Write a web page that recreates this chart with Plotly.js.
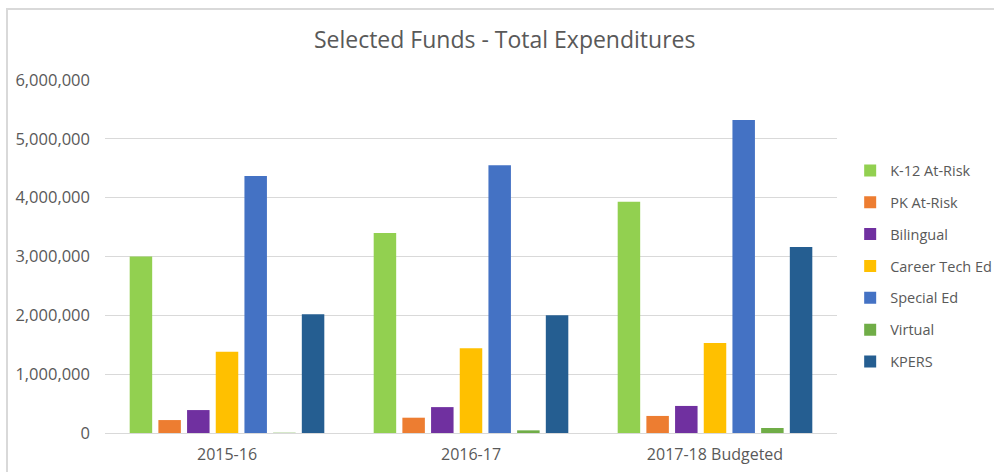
<!DOCTYPE html>
<html>
<head>
<meta charset="utf-8">
<script src="https://cdn.plot.ly/plotly-3.0.1.min.js"></script>
<style>
  html, body { margin: 0; padding: 0; background: #fff; overflow: hidden; }
  #chart { width: 994px; height: 472px; position: absolute; left: 0; top: 0; }
  #frame { position: absolute; left: 6px; top: 8px; width: 1100px; height: 600px;
           border-top: 2px solid #d9d9d9; border-left: 2px solid #d9d9d9; pointer-events: none; }
</style>
</head>
<body>
<div id="chart"></div>
<div id="frame"></div>
<script>
const categories = ["2015-16", "2016-17", "2017-18 Budgeted"];
const seriesNames = ["K-12 At-Risk", "PK At-Risk", "Bilingual", "Career Tech Ed", "Special Ed", "Virtual", "KPERS"];
const k12AtRisk   = [3000000, 3400000, 3930000];
const pkAtRisk    = [220000, 260000, 290000];
const bilingual   = [390000, 440000, 460000];
const careerTech  = [1380000, 1440000, 1530000];
const specialEd   = [4370000, 4550000, 5320000];
const virtual     = [5000, 45000, 85000];
const kpers       = [2020000, 2000000, 3160000];
const yTickVals   = [0, 1000000, 2000000, 3000000, 4000000, 5000000, 6000000];
const yTickText   = ["0", "1,000,000", "2,000,000", "3,000,000", "4,000,000", "5,000,000", "6,000,000"];

const seriesValues = [k12AtRisk, pkAtRisk, bilingual, careerTech, specialEd, virtual, kpers];
const colors = ["#92d050", "#ed7d31", "#7030a0", "#ffc000", "#4472c4", "#70ad47", "#255e91"];

const traces = seriesNames.map((name, i) => ({
  type: "bar",
  name: name,
  x: categories,
  y: seriesValues[i],
  legendgroup: "g" + i,
  marker: { color: colors[i], line: { width: 0 } },
  hoverinfo: "x+y+name"
}));

const layout = {
  width: 994,
  height: 472,
  paper_bgcolor: "#ffffff",
  plot_bgcolor: "#ffffff",
  margin: { l: 105, r: 157, t: 80, b: 39, pad: 0, autoexpand: false },
  font: { family: "Open Sans, sans-serif", color: "#595959" },
  title: {
    text: "Selected Funds - Total Expenditures",
    font: { family: "Open Sans, sans-serif", size: 23, color: "#595959" },
    x: 0.546, xanchor: "center", xref: "paper",
    y: 0.915, yanchor: "middle", yref: "container"
  },
  barmode: "group",
  bargap: 0.177,
  bargroupgap: 0.216,
  xaxis: {
    type: "category",
    tickfont: { size: 16, color: "#595959" },
    showgrid: false,
    showline: true,
    linecolor: "#d9d9d9",
    linewidth: 1,
    ticks: "",
    ticklabelstandoff: 7
  },
  yaxis: {
    range: [0, 6000000],
    tickvals: yTickVals,
    ticktext: yTickText,
    tickfont: { size: 16.5, color: "#595959" },
    showgrid: true,
    gridcolor: "#d9d9d9",
    gridwidth: 1,
    zeroline: false,
    showline: false,
    ticks: "",
    ticklabelstandoff: 14
  },
  legend: {
    x: 1.018, xanchor: "left",
    y: 0.789, yanchor: "top",
    font: { family: "Open Sans, sans-serif", size: 14.5, color: "#595959" },
    itemwidth: 30,
    tracegroupgap: 10,
    bgcolor: "rgba(0,0,0,0)",
    traceorder: "grouped"
  },
  showlegend: true
};

Plotly.newPlot("chart", traces, layout, { displayModeBar: false, staticPlot: true });
</script>
</body>
</html>
